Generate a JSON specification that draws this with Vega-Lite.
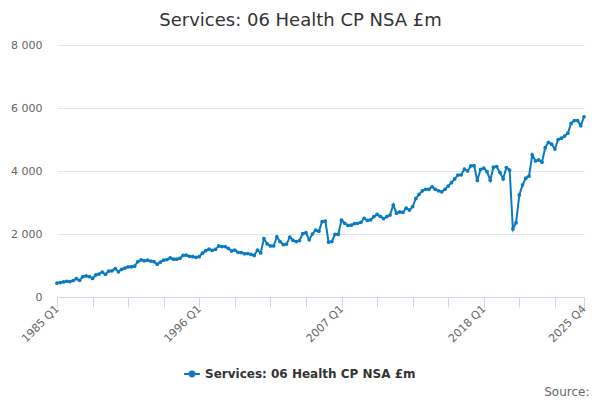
{
  "$schema": "https://vega.github.io/schema/vega-lite/v6.json",
  "autosize": "none",
  "width": 527,
  "height": 252,
  "padding": {"left": 57, "top": 45, "right": 16, "bottom": 103},
  "title": {
    "text": "Services: 06 Health CP NSA £m",
    "fontSize": 18,
    "fontWeight": "normal",
    "color": "#333333",
    "anchor": "middle",
    "dx": -20,
    "offset": 9
  },
  "config": {
    "font": "DejaVu Sans",
    "view": {"stroke": null}
  },
  "data": {
    "values": [
      {"q": "1985 Q1", "v": 440}, {"q": "1985 Q2", "v": 460}, {"q": "1985 Q3", "v": 480}, {"q": "1985 Q4", "v": 500},
      {"q": "1986 Q1", "v": 490}, {"q": "1986 Q2", "v": 520}, {"q": "1986 Q3", "v": 580}, {"q": "1986 Q4", "v": 530},
      {"q": "1987 Q1", "v": 650}, {"q": "1987 Q2", "v": 670}, {"q": "1987 Q3", "v": 650}, {"q": "1987 Q4", "v": 590},
      {"q": "1988 Q1", "v": 700}, {"q": "1988 Q2", "v": 730}, {"q": "1988 Q3", "v": 790}, {"q": "1988 Q4", "v": 720},
      {"q": "1989 Q1", "v": 820}, {"q": "1989 Q2", "v": 830}, {"q": "1989 Q3", "v": 900}, {"q": "1989 Q4", "v": 800},
      {"q": "1990 Q1", "v": 880}, {"q": "1990 Q2", "v": 920}, {"q": "1990 Q3", "v": 960}, {"q": "1990 Q4", "v": 960},
      {"q": "1991 Q1", "v": 980}, {"q": "1991 Q2", "v": 1120}, {"q": "1991 Q3", "v": 1180}, {"q": "1991 Q4", "v": 1150},
      {"q": "1992 Q1", "v": 1170}, {"q": "1992 Q2", "v": 1140}, {"q": "1992 Q3", "v": 1120}, {"q": "1992 Q4", "v": 1040},
      {"q": "1993 Q1", "v": 1110}, {"q": "1993 Q2", "v": 1170}, {"q": "1993 Q3", "v": 1190}, {"q": "1993 Q4", "v": 1240},
      {"q": "1994 Q1", "v": 1200}, {"q": "1994 Q2", "v": 1200}, {"q": "1994 Q3", "v": 1230}, {"q": "1994 Q4", "v": 1320},
      {"q": "1995 Q1", "v": 1330}, {"q": "1995 Q2", "v": 1290}, {"q": "1995 Q3", "v": 1280}, {"q": "1995 Q4", "v": 1260},
      {"q": "1996 Q1", "v": 1280}, {"q": "1996 Q2", "v": 1390}, {"q": "1996 Q3", "v": 1470}, {"q": "1996 Q4", "v": 1520},
      {"q": "1997 Q1", "v": 1480}, {"q": "1997 Q2", "v": 1510}, {"q": "1997 Q3", "v": 1620}, {"q": "1997 Q4", "v": 1600},
      {"q": "1998 Q1", "v": 1600}, {"q": "1998 Q2", "v": 1540}, {"q": "1998 Q3", "v": 1460}, {"q": "1998 Q4", "v": 1490},
      {"q": "1999 Q1", "v": 1420}, {"q": "1999 Q2", "v": 1410}, {"q": "1999 Q3", "v": 1370}, {"q": "1999 Q4", "v": 1380},
      {"q": "2000 Q1", "v": 1350}, {"q": "2000 Q2", "v": 1320}, {"q": "2000 Q3", "v": 1490}, {"q": "2000 Q4", "v": 1400},
      {"q": "2001 Q1", "v": 1850}, {"q": "2001 Q2", "v": 1690}, {"q": "2001 Q3", "v": 1620}, {"q": "2001 Q4", "v": 1620},
      {"q": "2002 Q1", "v": 1910}, {"q": "2002 Q2", "v": 1760}, {"q": "2002 Q3", "v": 1660}, {"q": "2002 Q4", "v": 1680},
      {"q": "2003 Q1", "v": 1900}, {"q": "2003 Q2", "v": 1800}, {"q": "2003 Q3", "v": 1760}, {"q": "2003 Q4", "v": 1790},
      {"q": "2004 Q1", "v": 2010}, {"q": "2004 Q2", "v": 2040}, {"q": "2004 Q3", "v": 1820}, {"q": "2004 Q4", "v": 2000},
      {"q": "2005 Q1", "v": 2120}, {"q": "2005 Q2", "v": 2090}, {"q": "2005 Q3", "v": 2390}, {"q": "2005 Q4", "v": 2410},
      {"q": "2006 Q1", "v": 1740}, {"q": "2006 Q2", "v": 1760}, {"q": "2006 Q3", "v": 1990}, {"q": "2006 Q4", "v": 1990},
      {"q": "2007 Q1", "v": 2440}, {"q": "2007 Q2", "v": 2340}, {"q": "2007 Q3", "v": 2270}, {"q": "2007 Q4", "v": 2280},
      {"q": "2008 Q1", "v": 2330}, {"q": "2008 Q2", "v": 2340}, {"q": "2008 Q3", "v": 2370}, {"q": "2008 Q4", "v": 2500},
      {"q": "2009 Q1", "v": 2430}, {"q": "2009 Q2", "v": 2450}, {"q": "2009 Q3", "v": 2550}, {"q": "2009 Q4", "v": 2620},
      {"q": "2010 Q1", "v": 2560}, {"q": "2010 Q2", "v": 2490}, {"q": "2010 Q3", "v": 2550}, {"q": "2010 Q4", "v": 2600},
      {"q": "2011 Q1", "v": 2920}, {"q": "2011 Q2", "v": 2660}, {"q": "2011 Q3", "v": 2700}, {"q": "2011 Q4", "v": 2690},
      {"q": "2012 Q1", "v": 2820}, {"q": "2012 Q2", "v": 2760}, {"q": "2012 Q3", "v": 2870}, {"q": "2012 Q4", "v": 3130},
      {"q": "2013 Q1", "v": 3260}, {"q": "2013 Q2", "v": 3370}, {"q": "2013 Q3", "v": 3420}, {"q": "2013 Q4", "v": 3420},
      {"q": "2014 Q1", "v": 3500}, {"q": "2014 Q2", "v": 3420}, {"q": "2014 Q3", "v": 3370}, {"q": "2014 Q4", "v": 3340},
      {"q": "2015 Q1", "v": 3420}, {"q": "2015 Q2", "v": 3520}, {"q": "2015 Q3", "v": 3630}, {"q": "2015 Q4", "v": 3750},
      {"q": "2016 Q1", "v": 3870}, {"q": "2016 Q2", "v": 3880}, {"q": "2016 Q3", "v": 4060}, {"q": "2016 Q4", "v": 4000},
      {"q": "2017 Q1", "v": 4160}, {"q": "2017 Q2", "v": 4170}, {"q": "2017 Q3", "v": 3700}, {"q": "2017 Q4", "v": 4050},
      {"q": "2018 Q1", "v": 4090}, {"q": "2018 Q2", "v": 3980}, {"q": "2018 Q3", "v": 3710}, {"q": "2018 Q4", "v": 4120},
      {"q": "2019 Q1", "v": 4140}, {"q": "2019 Q2", "v": 3950}, {"q": "2019 Q3", "v": 3750}, {"q": "2019 Q4", "v": 4110},
      {"q": "2020 Q1", "v": 4030}, {"q": "2020 Q2", "v": 2160}, {"q": "2020 Q3", "v": 2360}, {"q": "2020 Q4", "v": 3240},
      {"q": "2021 Q1", "v": 3560}, {"q": "2021 Q2", "v": 3770}, {"q": "2021 Q3", "v": 3840}, {"q": "2021 Q4", "v": 4510},
      {"q": "2022 Q1", "v": 4320}, {"q": "2022 Q2", "v": 4350}, {"q": "2022 Q3", "v": 4280}, {"q": "2022 Q4", "v": 4740},
      {"q": "2023 Q1", "v": 4910}, {"q": "2023 Q2", "v": 4850}, {"q": "2023 Q3", "v": 4700}, {"q": "2023 Q4", "v": 5000},
      {"q": "2024 Q1", "v": 5040}, {"q": "2024 Q2", "v": 5110}, {"q": "2024 Q3", "v": 5200}, {"q": "2024 Q4", "v": 5510},
      {"q": "2025 Q1", "v": 5600}, {"q": "2025 Q2", "v": 5600}, {"q": "2025 Q3", "v": 5440}, {"q": "2025 Q4", "v": 5720}
    ]
  },
  "mark": {
    "type": "line",
    "strokeWidth": 2,
    "point": {"filled": true, "size": 14}
  },
  "encoding": {
    "x": {
      "field": "q",
      "type": "ordinal",
      "sort": null,
      "scale": {"type": "point", "padding": 0},
      "axis": {
        "values": ["1985 Q1", "1987 Q4", "1990 Q3", "1993 Q2", "1996 Q1", "1998 Q4", "2001 Q3", "2004 Q2", "2007 Q1", "2009 Q4", "2012 Q3", "2015 Q2", "2018 Q1", "2020 Q4", "2023 Q3", "2025 Q4"],
        "labelExpr": "indexof(['1985 Q1','1996 Q1','2007 Q1','2018 Q1','2025 Q4'], datum.value) >= 0 ? datum.value : ''",
        "labelAngle": -45,
        "labelAlign": "right",
        "labelBaseline": "middle",
        "labelFontSize": 11,
        "labelColor": "#666666",
        "labelPadding": 0,
        "domainColor": "#ccd6eb",
        "tickColor": "#ccd6eb",
        "tickSize": 10,
        "grid": false,
        "title": "Source:",
        "titleX": 532,
        "titleY": 98,
        "titleAlign": "right",
        "titleBaseline": "alphabetic",
        "titleFontWeight": "normal",
        "titleFontSize": 12,
        "titleColor": "#666666"
      }
    },
    "y": {
      "field": "v",
      "type": "quantitative",
      "scale": {"domain": [0, 8000], "nice": false},
      "axis": {
        "values": [0, 2000, 4000, 6000, 8000],
        "labelExpr": "replace(format(datum.value, ','), ',', ' ')",
        "labelFontSize": 11,
        "labelColor": "#666666",
        "labelPadding": 15,
        "domain": false,
        "ticks": false,
        "gridColor": "#e6e6e6",
        "title": null
      }
    },
    "color": {
      "datum": "Services: 06 Health CP NSA £m",
      "scale": {"range": ["#0a7bc1"]},
      "legend": {
        "title": null,
        "orient": "none",
        "legendX": 126,
        "legendY": 320,
        "symbolType": "M-1,0L1,0M-0.3,0A0.3,0.3,0,1,1,0.3,0A0.3,0.3,0,1,1,-0.3,0Z",
        "symbolSize": 256,
        "symbolStrokeWidth": 2,
        "symbolFillColor": "#0a7bc1",
        "symbolStrokeColor": "#0a7bc1",
        "labelFontSize": 12,
        "labelFontWeight": "bold",
        "labelColor": "#333333",
        "labelLimit": 400
      }
    }
  }
}
